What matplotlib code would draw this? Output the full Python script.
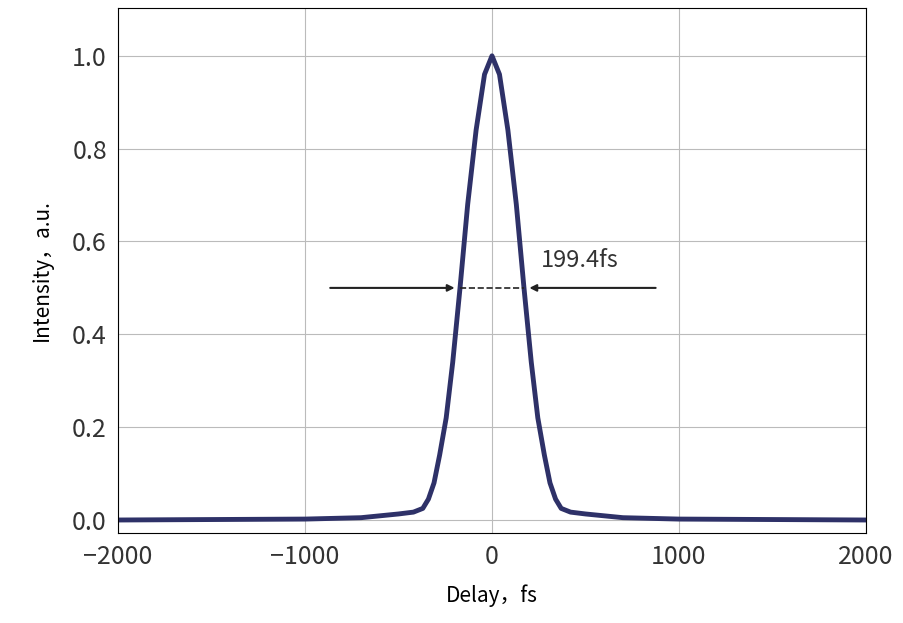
import matplotlib.pyplot as plt

plt.rcParams['font.family'] = ['Noto Sans CJK SC', 'DejaVu Sans']

# autocorrelation trace (symmetric)
delay_pos = [0, 40, 85, 130, 171, 210, 245, 280, 310, 340, 370, 420, 500, 700, 1000, 2000]
inten_pos = [1.0, 0.96, 0.84, 0.68, 0.50, 0.34, 0.22, 0.14, 0.08, 0.045, 0.025, 0.017, 0.013, 0.005, 0.002, 0.0]
delay = [-d for d in delay_pos[::-1]] + delay_pos[1:]
inten = inten_pos[::-1] + inten_pos[1:]
FWHM = 199.4

fig = plt.figure(figsize=(9.04, 6.23), dpi=100)
ax = fig.add_axes([118 / 904, 90 / 623, 748 / 904, 525 / 623])
ax.plot(delay, inten, color="#2e3168", lw=3.5, solid_joinstyle="round")

ax.annotate("", xy=(-185, 0.5), xytext=(-880, 0.5),
            arrowprops=dict(arrowstyle="-|>", color="#222222", lw=1.5))
ax.annotate("", xy=(185, 0.5), xytext=(890, 0.5),
            arrowprops=dict(arrowstyle="-|>", color="#222222", lw=1.5))
ax.plot([-170, 170], [0.5, 0.5], "--", color="#222222", lw=1.2)
ax.text(262, 0.545, f"{FWHM}fs", fontsize=17, color="#333333")

ax.set_xlim(-2000, 2000)
ax.set_ylim(-0.028, 1.103)
ax.set_xticks([-2000, -1000, 0, 1000, 2000])
ax.set_yticks([0, 0.2, 0.4, 0.6, 0.8, 1.0])
ax.set_yticklabels(["0.0", "0.2", "0.4", "0.6", "0.8", "1.0"])
ax.tick_params(labelsize=18, length=0, colors="#333333", pad=8)
ax.grid(color="#bbbbbb", lw=0.8)
ax.set_xlabel("Delay，fs", fontsize=15, labelpad=10)
ax.set_ylabel("Intensity，a.u.", fontsize=15, labelpad=14)
fig.savefig("out.png", dpi=100)
